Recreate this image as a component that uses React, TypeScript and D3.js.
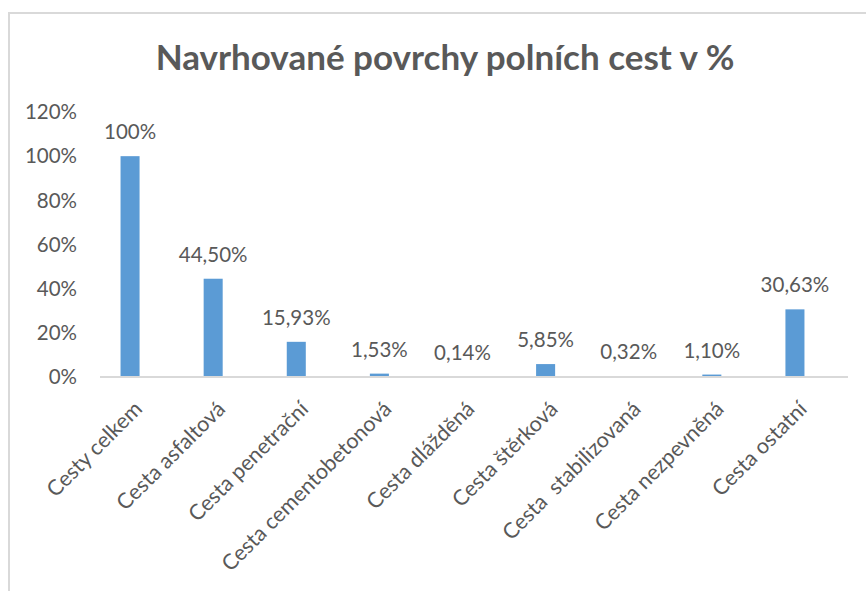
import React from "react";
import * as d3 from "d3";

const title = "Navrhované povrchy polních cest v %";
const categories = [
  "Cesty celkem",
  "Cesta asfaltová",
  "Cesta penetrační",
  "Cesta cementobetonová",
  "Cesta dlážděná",
  "Cesta štěrková",
  "Cesta  stabilizovaná",
  "Cesta nezpevněná",
  "Cesta ostatní",
];
const values = [100, 44.5, 15.93, 1.53, 0.14, 5.85, 0.32, 1.1, 30.63];
const valueLabels = ["100%", "44,50%", "15,93%", "1,53%", "0,14%", "5,85%", "0,32%", "1,10%", "30,63%"];
const yTicks = [0, 20, 40, 60, 80, 100, 120];

const W = 866;
const H = 591;
const FONT = "Lato, 'Open Sans', sans-serif";
const TEXT = "#595959";
const BAR = "#5B9BD5";
const GRID = "#d9d9d9";

export default function App() {
  const y = d3.scaleLinear().domain([0, 120]).range([377, 112]);
  const x = d3
    .scaleBand<string>()
    .domain(categories)
    .range([88.5, 836.5])
    .paddingInner(0.771)
    .paddingOuter(0.3855);
  const bw = x.bandwidth();

  return (
    <svg
      width={W}
      height={H}
      style={{ position: "absolute", left: 0, top: 0, background: "#fff" }}
      fontFamily={FONT}
    >
      <rect x={0} y={0} width={W} height={H} fill="#fff" />
      <rect x={9} y={13} width={W + 20} height={H + 20} fill="none" stroke={GRID} strokeWidth={2} />
      <text x={445} y={70} textAnchor="middle" fontSize={35} fontWeight="bold" fill={TEXT}>
        {title}
      </text>
      {yTicks.map((t) => (
        <text key={t} x={77} y={y(t)} dy="0.35em" textAnchor="end" fontSize={20.5} fill={TEXT}>
          {t}%
        </text>
      ))}
      {categories.map((c, i) => {
        const x0 = x(c)!;
        const cx = x0 + bw / 2;
        return (
          <g key={c}>
            <rect x={x0} y={y(values[i])} width={bw} height={y(0) - y(values[i])} fill={BAR} />
            <text x={cx} y={y(values[i]) - 17} textAnchor="middle" fontSize={20.5} fill={TEXT}>
              {valueLabels[i]}
            </text>
            <text
              transform={`translate(${cx + 8},${405}) rotate(-45)`}
              dy="0.35em"
              textAnchor="end"
              fontSize={21.5}
              fill={TEXT}
              style={{ whiteSpace: "pre" }}
            >
              {c}
            </text>
          </g>
        );
      })}
      <line x1={100} x2={848} y1={y(0)} y2={y(0)} stroke={GRID} strokeWidth={2} />
    </svg>
  );
}
